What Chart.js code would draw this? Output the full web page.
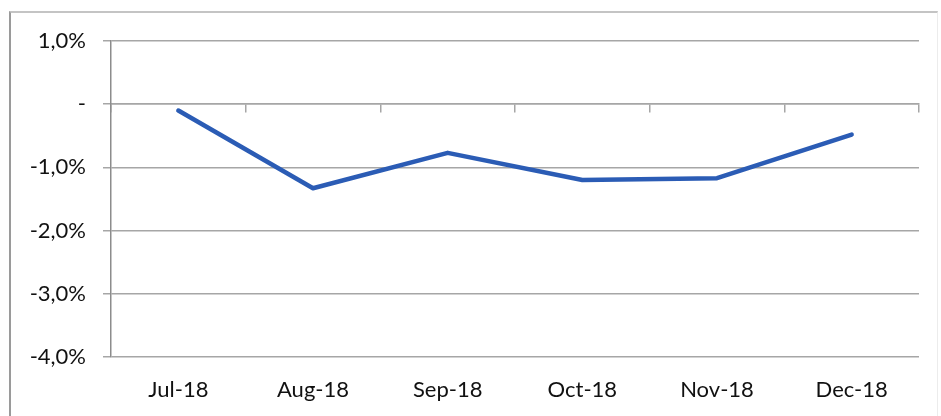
<!DOCTYPE html>
<html>
<head>
<meta charset="utf-8">
<script src="https://cdn.jsdelivr.net/npm/chart.js@4.4.1/dist/chart.umd.min.js"></script>
<style>
  html, body { margin: 0; padding: 0; background: #fff; }
  #wrap { position: relative; width: 941px; height: 416px; overflow: hidden; }
  #frame {
    position: absolute; left: 9px; top: 11px; width: 926px; height: 430px;
    border-left: 2px solid #9a9a9a; border-top: 2px solid #c4c4c4; border-right: 1px solid #ececec;
    pointer-events: none;
  }
  canvas { position: absolute; left: 0; top: 0; }
</style>
</head>
<body>
<div id="wrap">
  <canvas id="chart" width="941" height="416"></canvas>
  <div id="frame"></div>
</div>
<script>
// Monthly change, in percent
const months = ["Jul-18", "Aug-18", "Sep-18", "Oct-18", "Nov-18", "Dec-18"];
const changePct = [-0.10, -1.33, -0.77, -1.20, -1.17, -0.48];
const yTicks = [1, 0, -1, -2, -3, -4];

const FONT = { family: "Lato, 'Liberation Sans', sans-serif", size: 22 };
const GRID = "#a6a6a6";

function pctLabel(v) {
  if (Math.abs(v) < 1e-9) return "-";
  return v.toFixed(1).replace(".", ",") + "%";
}

new Chart(document.getElementById("chart"), {
  type: "line",
  data: {
    labels: months,
    datasets: [{
      data: changePct,
      borderColor: "#2b5cb5",
      borderWidth: 4.5,
      borderCapStyle: "round",
      borderJoinStyle: "round",
      pointRadius: 0,
      tension: 0,
      fill: false
    }]
  },
  options: {
    responsive: false,
    animation: false,
    devicePixelRatio: 1,
    layout: { padding: { left: 0, top: 41, right: 22, bottom: 0 } },
    plugins: { legend: { display: false }, tooltip: { enabled: false } },
    scales: {
      x: {
        type: "category",
        offset: true,
        position: "bottom",
        grid: { display: false, drawTicks: false },
        border: { display: false },
        ticks: { color: "#111", font: FONT, padding: 20, maxRotation: 0 },
        afterFit: s => { s.height = 59; }
      },
      // axis line along zero with tick marks between the months
      x0: {
        type: "category",
        labels: months,
        offset: true,
        position: { y: 0 },
        grid: { offset: true, drawOnChartArea: false, tickLength: 8, color: GRID, lineWidth: 1.5 },
        border: { display: true, color: GRID, width: 1.5 },
        ticks: { display: false }
      },
      y: {
        min: -4,
        max: 1,
        afterBuildTicks: s => { s.ticks = yTicks.map(v => ({ value: v })); },
        grid: { color: GRID, lineWidth: 1.5, tickLength: 8 },
        border: { display: true, color: "#8c8c8c", width: 1.5 },
        ticks: { color: "#111", font: FONT, padding: 17, callback: v => pctLabel(v) },
        afterFit: s => { s.width = 111; }
      }
    }
  }
});
</script>
</body>
</html>
